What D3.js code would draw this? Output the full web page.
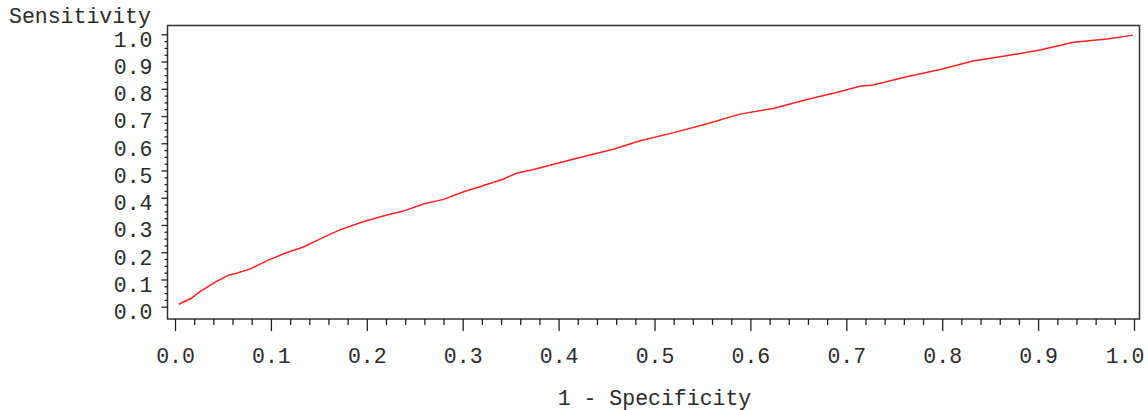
<!DOCTYPE html>
<html>
<head>
<meta charset="utf-8">
<script src="https://cdn.jsdelivr.net/npm/d3@7"></script>
<style>
  html, body { margin: 0; padding: 0; background: #fff; }
  svg text { font-family: "Liberation Mono", "DejaVu Sans Mono", monospace; fill: #2a2a2a; }
</style>
</head>
<body>
<div id="chart"></div>
<script>
// ROC curve points
const fpr = [0.004, 0.017, 0.026, 0.042, 0.056, 0.064, 0.078, 0.096, 0.116, 0.134,
             0.153, 0.172, 0.196, 0.217, 0.238, 0.259, 0.280, 0.301, 0.321, 0.342,
             0.356, 0.374, 0.391, 0.415, 0.457, 0.485, 0.520, 0.554, 0.589, 0.624,
             0.659, 0.693, 0.714, 0.728, 0.763, 0.798, 0.832, 0.867, 0.902, 0.937,
             0.972, 0.999];
const tpr = [0.009, 0.031, 0.055, 0.090, 0.116, 0.123, 0.138, 0.169, 0.198, 0.219,
             0.252, 0.282, 0.312, 0.333, 0.351, 0.377, 0.394, 0.422, 0.444, 0.468,
             0.490, 0.504, 0.519, 0.541, 0.578, 0.609, 0.639, 0.671, 0.707, 0.728,
             0.761, 0.789, 0.809, 0.814, 0.844, 0.871, 0.902, 0.921, 0.942, 0.971,
             0.983, 0.997];
const xTicks = [0, 0.1, 0.2, 0.3, 0.4, 0.5, 0.6, 0.7, 0.8, 0.9, 1.0];
const yTicks = [0, 0.1, 0.2, 0.3, 0.4, 0.5, 0.6, 0.7, 0.8, 0.9, 1.0];
const xTitle = "1 - Specificity";
const yTitle = "Sensitivity";

const W = 1148, H = 410;
const frame = { left: 167.5, right: 1139.5, top: 25.5, bottom: 319 };

const svg = d3.select("#chart").append("svg")
    .attr("width", W).attr("height", H);

const x = d3.scaleLinear().domain([0, 1]).range([175, 1134]);
const y = d3.scaleLinear().domain([0, 1]).range([306.7, 34.3]);

// frame
svg.append("rect")
    .attr("x", frame.left).attr("y", frame.top)
    .attr("width", frame.right - frame.left)
    .attr("height", frame.bottom - frame.top)
    .attr("fill", "none").attr("stroke", "#333").attr("stroke-width", 1.5);

// minor ticks
const xMinor = d3.range(0, 51).map(i => i / 50).filter((d, i) => i % 5 !== 0);
const yMinor = d3.range(0, 41).map(i => i / 40).filter((d, i) => i % 4 !== 0);

svg.append("g").attr("transform", `translate(0,${frame.bottom})`)
    .call(d3.axisBottom(x).tickValues(xMinor).tickSize(6).tickFormat(""))
    .call(g => g.select(".domain").remove())
    .call(g => g.selectAll("line").attr("stroke", "#222").attr("stroke-width", 1.3));

svg.append("g").attr("transform", `translate(${frame.left},0)`)
    .call(d3.axisLeft(y).tickValues(yMinor).tickSize(3).tickFormat(""))
    .call(g => g.select(".domain").remove())
    .call(g => g.selectAll("line").attr("stroke", "#222").attr("stroke-width", 1.3));

// major ticks
const xAxis = svg.append("g").attr("transform", `translate(0,${frame.bottom})`)
    .call(d3.axisBottom(x).tickValues(xTicks).tickSize(12).tickPadding(17)
        .tickFormat(d3.format(".1f")))
    .call(g => g.select(".domain").remove())
    .call(g => g.selectAll("line").attr("stroke", "#222").attr("stroke-width", 1.3));
xAxis.selectAll("text")
    .style("font-size", "21.5px")
    .attr("fill", "#2a2a2a");
// last label is pulled in to stay inside the picture
xAxis.selectAll(".tick").filter(d => d === 1).select("text")
    .attr("text-anchor", "end").attr("x", 10);

svg.append("g").attr("transform", `translate(${frame.left},0)`)
    .call(d3.axisLeft(y).tickValues(yTicks).tickSize(6).tickPadding(9)
        .tickFormat(d3.format(".1f")))
    .call(g => g.select(".domain").remove())
    .call(g => g.selectAll("line").attr("stroke", "#222").attr("stroke-width", 1.3))
    .call(g => g.selectAll("text").style("font-size", "21.5px").attr("fill", "#2a2a2a")
        .attr("dy", "0.55em"));

// curve
const line = d3.line().x(d => x(d[0])).y(d => y(d[1]));
svg.append("path")
    .datum(d3.zip(fpr, tpr))
    .attr("d", line)
    .attr("fill", "none")
    .attr("stroke", "#ff2020")
    .attr("stroke-width", 1.5);

// titles
svg.append("text")
    .attr("x", 9).attr("y", 23)
    .style("font-size", "21.5px")
    .text(yTitle);

svg.append("text")
    .attr("x", (x(0) + x(1)) / 2).attr("y", 405)
    .attr("text-anchor", "middle")
    .style("font-size", "21.5px")
    .text(xTitle);
</script>
</body>
</html>
